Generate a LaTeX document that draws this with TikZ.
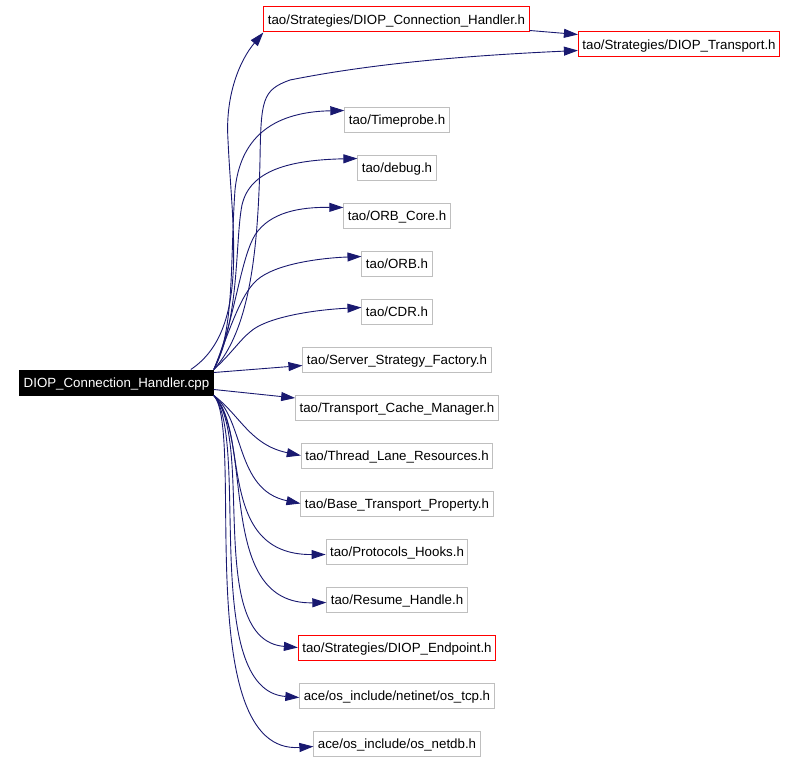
\documentclass[tikz,border=0pt]{standalone}
\usepackage{fontspec}
\setmainfont{Liberation Sans}
\usetikzlibrary{arrows.meta}
\definecolor{edgeblue}{HTML}{191970}
\definecolor{boxgray}{HTML}{BFBFBF}
\begin{document}
\begin{tikzpicture}[x=1pt, y=-1pt,
    file/.style={draw=#1, line width=1pt, minimum height=25pt, inner xsep=4pt, inner ysep=0pt,
        text height=13pt, text depth=2.8pt, font=\fontsize{13.3}{16}\selectfont},
    file/.default=boxgray,
    dep/.style={edgeblue, line width=0.9pt, -{Triangle[length=14pt, width=9pt]}}]
\useasboundingbox (0,0) rectangle (798,760);
\node[file=black, fill=black, text=white] (main) at (116.5,382.5) {DIOP\_Connection\_Handler.cpp};
\node[file=red] (ch) at (396.5,19.5) {tao/Strategies/DIOP\_Connection\_Handler.h};
\node[file=red] (tr) at (679,44.5) {tao/Strategies/DIOP\_Transport.h};
\foreach \name/\col/\txt [count=\i] in {time/boxgray/{tao/Timeprobe.h}, debug/boxgray/{tao/debug.h},
    core/boxgray/{tao/ORB\_Core.h}, orb/boxgray/{tao/ORB.h}, cdr/boxgray/{tao/CDR.h},
    ssf/boxgray/{tao/Server\_Strategy\_Factory.h}, tcm/boxgray/{tao/Transport\_Cache\_Manager.h},
    tlr/boxgray/{tao/Thread\_Lane\_Resources.h}, btp/boxgray/{tao/Base\_Transport\_Property.h},
    ph/boxgray/{tao/Protocols\_Hooks.h}, rh/boxgray/{tao/Resume\_Handle.h},
    ep/red/{tao/Strategies/DIOP\_Endpoint.h}, tcp/boxgray/{ace/os\_include/netinet/os\_tcp.h},
    netdb/boxgray/{ace/os\_include/os\_netdb.h}}
{
    \node[file=\col] (\name) at (397,{71.5+48*\i}) {\txt};
}
% upwards
\draw[dep] ([xshift=-23pt]main.north east) .. controls (250,330) and (232,230) .. (228,140)
    .. controls (225,95) and (240,60) .. (ch.south west);
\draw[dep] ([yshift=-11pt]ch.east) -- ([yshift=10pt]tr.west);
\draw[dep] (main.north east) .. controls (250,330) and (258,250) .. (260,160)
    .. controls (261,100) and (262,90) .. (290,80) .. controls (380,62) and (480,55) .. ([yshift=-6pt]tr.west);
\draw[dep] (main.north east) .. controls (235,330) and (230,260) .. (235,190)
    .. controls (240,140) and (270,112) .. ([yshift=9pt]time.west);
\draw[dep] (main.north east) .. controls (240,320) and (235,240) .. (242,205)
    .. controls (250,170) and (290,160) .. ([yshift=9pt]debug.west);
\draw[dep] (main.north east) .. controls (235,320) and (240,260) .. (255,235)
    .. controls (270,212) and (300,207) .. ([yshift=8pt]core.west);
\draw[dep] (main.north east) .. controls (230,330) and (240,295) .. (257,280)
    .. controls (275,264) and (320,258) .. ([yshift=7pt]orb.west);
\draw[dep] (main.north east) .. controls (230,355) and (240,340) .. (250,332)
    .. controls (265,318) and (310,310) .. ([yshift=4pt]cdr.west);
% straight on
\draw[dep] ([yshift=-3pt]main.north east) -- ([yshift=-6pt]ssf.west);
\draw[dep] ([yshift=-7pt]main.east) -- ([yshift=9.5pt]tcm.west);
% downwards
\draw[dep] (main.south east) .. controls (240,415) and (250,445) .. (tlr.west);
\draw[dep] (main.south east) .. controls (245,420) and (235,490) .. (btp.west);
\draw[dep] (main.south east) .. controls (250,430) and (215,555) .. ([yshift=-3pt]ph.west);
\draw[dep] (main.south east) .. controls (255,440) and (215,605) .. ([yshift=-3pt]rh.west);
\draw[dep] (main.south east) .. controls (255,440) and (205,640) .. (ep.west);
\draw[dep] (main.south east) .. controls (250,440) and (200,690) .. ([yshift=-2pt]tcp.west);
\draw[dep] (main.south east) .. controls (245,430) and (190,755) .. ([yshift=-3pt]netdb.west);
\end{tikzpicture}
\end{document}
